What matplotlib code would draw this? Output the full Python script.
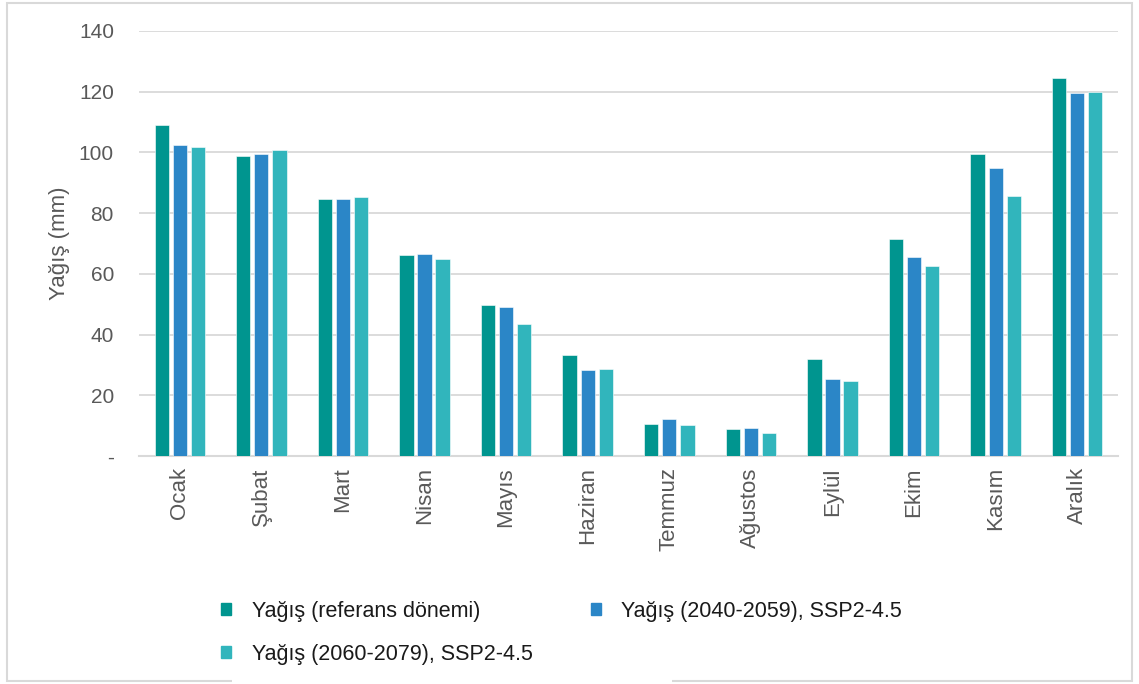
import matplotlib.pyplot as plt
import numpy as np
from matplotlib.patches import Patch, Rectangle

plt.rcParams['font.family'] = ['Liberation Sans', 'DejaVu Sans']

months = ["Ocak", "Şubat", "Mart", "Nisan", "Mayıs", "Haziran",
          "Temmuz", "Ağustos", "Eylül", "Ekim", "Kasım", "Aralık"]
ref_period = [108.9, 98.8, 84.8, 66.3, 49.7, 33.3, 10.5, 8.9, 32.0, 71.5, 99.6, 124.6]
ssp_2040 = [102.5, 99.6, 84.6, 66.5, 49.1, 28.2, 12.2, 9.2, 25.3, 65.6, 95.0, 119.5]
ssp_2060 = [101.8, 100.7, 85.3, 65.0, 43.5, 28.6, 10.3, 7.5, 24.8, 62.5, 85.5, 119.9]
series_labels = ["Yağış (referans dönemi)", "Yağış (2040-2059), SSP2-4.5",
                 "Yağış (2060-2079), SSP2-4.5"]
colors = ["#00958F", "#2B86C7", "#31B5BC"]
y_ticks = [0, 20, 40, 60, 80, 100, 120, 140]
y_ticklabels = ["-", "20", "40", "60", "80", "100", "120", "140"]

fig = plt.figure(figsize=(11.39, 6.84), dpi=100)
ax = fig.add_axes([0.122, 0.3333, 0.8596, 0.6214])

x = np.arange(len(months))
width = 0.175
step = 0.222
for i, vals in enumerate([ref_period, ssp_2040, ssp_2060]):
    ax.bar(x + (i - 1) * step, vals, width, color=colors[i],
           edgecolor="white", linewidth=0.4, zorder=3)

ax.set_xlim(-0.5, len(months) - 0.5)
ax.set_ylim(0, 140)
ax.set_yticks(y_ticks)
ax.set_yticklabels(y_ticklabels, fontsize=15, color="#595959")
ax.set_xticks(x)
ax.set_xticklabels(months, rotation=90, fontsize=16, color="#595959")
ax.tick_params(axis="y", length=0, pad=18)
ax.tick_params(axis="x", length=0, pad=8)
ax.grid(axis="y", color="#D9D9D9", linewidth=1.3, zorder=0)
for s in ["top", "right", "left"]:
    ax.spines[s].set_visible(False)
ax.spines["bottom"].set_color("#D9D9D9")
ax.spines["bottom"].set_linewidth(1.5)
ax.set_ylabel("Yağış (mm)", fontsize=16, color="#595959", labelpad=6)

# outer chart border
fig.patches.append(Rectangle((7 / 1139, 3 / 684), 1125 / 1139, 678 / 684,
                             transform=fig.transFigure, fill=False,
                             edgecolor="#D9D9D9", linewidth=1.5))
fig.patches.append(Rectangle((232 / 1139, 0), 440 / 1139, 8 / 684,
                             transform=fig.transFigure, facecolor="white",
                             edgecolor="none", zorder=5))

# column-major fill: put 2060 second so rows read ref, 2040 / 2060
order = [0, 2, 1]
handles = [Patch(color=colors[k]) for k in order]
labels = [series_labels[k] for k in order]
fig.legend(handles, labels, loc="upper left",
           bbox_to_anchor=(0.194, 0.122), ncol=2, frameon=False,
           fontsize=15.5, handlelength=0.47, handleheight=0.47,
           columnspacing=2.7, handletextpad=0.95, labelspacing=1.04,
           borderpad=0, borderaxespad=0, labelcolor="#1A1A1A",
           bbox_transform=fig.transFigure)

fig.savefig("out.png", dpi=100)
